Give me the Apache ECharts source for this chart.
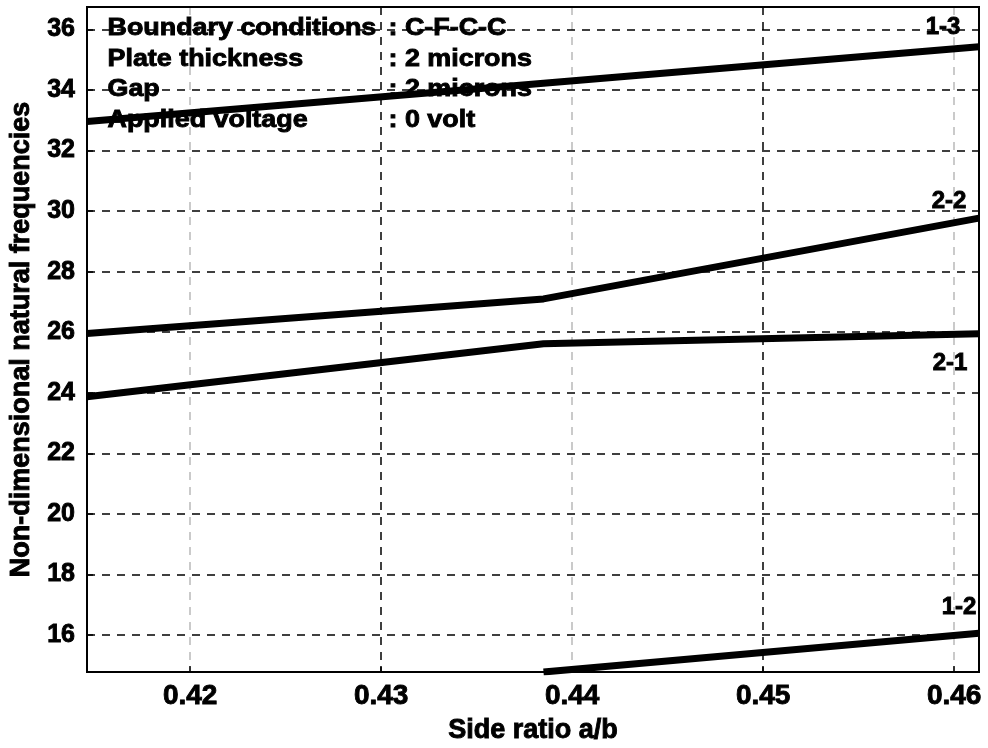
<!DOCTYPE html>
<html>
<head>
<meta charset="utf-8">
<script src="https://cdn.jsdelivr.net/npm/echarts@6/dist/echarts.min.js"></script>
<style>
  html, body { margin: 0; padding: 0; background: #fff; }
  #chart { width: 988px; height: 748px; }
</style>
</head>
<body>
<div id="chart"></div>
<script>
// Side ratio a/b at which the frequencies were computed
const sideRatio = [0.4146, 0.4385, 0.4613];

// Non-dimensional natural frequencies for each mode
const mode13 = [32.96, 34.22, 35.43];
const mode22 = [25.96, 27.10, 29.77];
const mode21 = [23.87, 25.62, 25.95];
const mode12 = [null, 14.78, 16.06];

const modeNames = ['1-3', '2-2', '2-1', '1-2'];
const modeValues = [mode13, mode22, mode21, mode12];

// Where each mode tag sits relative to the end of its curve
const tagOffsets = [[-36, -19], [-30, -17], [-29, 30], [-20, -26]];

// Simulation parameters printed in the upper-left corner
const infoKeys = ['Boundary conditions', 'Plate thickness', 'Gap', 'Applied voltage'];
const infoValues = [': C-F-C-C', ': 2 microns', ': 2 microns', ': 0 volt'];

const FONT = '"Liberation Sans", Arial, Helvetica, sans-serif';
// slight outline thickens the bold glyphs
const heavy = { textBorderColor: '#000', textBorderWidth: 0.9 };

const chart = echarts.init(document.getElementById('chart'), null, { renderer: 'canvas' });

const series = modeNames.map((name, i) => ({
  name: name,
  type: 'line',
  data: sideRatio.map((x, j) => [x, modeValues[i][j]]),
  showSymbol: false,
  symbol: 'none',
  clip: true,
  connectNulls: false,
  lineStyle: { color: '#000', width: 7 },
  itemStyle: { color: '#000' },
  z: 5,
  endLabel: Object.assign({
    show: true,
    formatter: '{a}',
    distance: 0,
    offset: tagOffsets[i],
    align: 'center',
    verticalAlign: 'middle',
    color: '#000',
    fontFamily: FONT,
    fontWeight: 'bold',
    fontSize: 24
  }, heavy)
}));

const graphics = [];
infoKeys.forEach((k, i) => {
  graphics.push({
    type: 'text', left: 107, top: 16 + i * 30.7, scaleX: 1.12, z: 10,
    style: { text: k, fill: '#000', font: 'bold 24px ' + FONT, stroke: '#000', lineWidth: 0.9 }
  });
  graphics.push({
    type: 'text', left: 388, top: 16 + i * 30.7, scaleX: 1.12, z: 10,
    style: { text: infoValues[i], fill: '#000', font: 'bold 24px ' + FONT, stroke: '#000', lineWidth: 0.9 }
  });
});

chart.setOption({
  animation: false,
  backgroundColor: '#fff',
  grid: {
    left: 87, right: 9, top: 7, bottom: 76,
    outerBoundsMode: 'none',
    containLabel: false,
    show: true, borderColor: '#000', borderWidth: 2, backgroundColor: 'transparent'
  },
  xAxis: {
    type: 'value',
    min: 0.4146, max: 0.4613,
    minInterval: 0.01, maxInterval: 0.01,
    name: 'Side ratio a/b',
    nameLocation: 'middle',
    nameGap: 45,
    nameTextStyle: Object.assign({ color: '#000', fontFamily: FONT, fontWeight: 'bold', fontSize: 27 }, heavy),
    axisLine: { show: true, onZero: false, lineStyle: { color: '#000', width: 2 } },
    axisTick: { show: true, inside: true, length: 6, lineStyle: { color: '#000', width: 1.5 } },
    axisLabel: Object.assign({
      showMinLabel: false, showMaxLabel: false,
      color: '#000', fontFamily: FONT, fontWeight: 'bold', fontSize: 28, margin: 10,
      formatter: v => (Math.abs(v * 100 - Math.round(v * 100)) < 1e-6 ? v.toFixed(2) : '')
    }, heavy),
    splitLine: {
      show: true,
      lineStyle: { color: ['#000', 'rgba(0,0,0,0.28)'], width: 1.5, type: [8, 7] }
    }
  },
  yAxis: {
    type: 'value',
    min: 14.78, max: 36.74,
    minInterval: 2, maxInterval: 2,
    name: 'Non-dimensional natural frequencies',
    nameLocation: 'middle',
    nameGap: 51,
    nameTextStyle: Object.assign({ color: '#000', fontFamily: FONT, fontWeight: 'bold', fontSize: 27 }, heavy),
    axisLine: { show: true, onZero: false, lineStyle: { color: '#000', width: 2 } },
    axisTick: { show: true, inside: true, length: 6, lineStyle: { color: '#000', width: 1.5 } },
    axisLabel: Object.assign({
      showMinLabel: false, showMaxLabel: false,
      color: '#000', fontFamily: FONT, fontWeight: 'bold', fontSize: 25, margin: 12,
      formatter: v => (Math.abs(v / 2 - Math.round(v / 2)) < 1e-6 ? String(Math.round(v)) : '')
    }, heavy),
    splitLine: {
      show: true,
      lineStyle: { color: '#000', width: 1.5, type: [8, 7] }
    }
  },
  graphic: graphics,
  series: series
});
</script>
</body>
</html>
